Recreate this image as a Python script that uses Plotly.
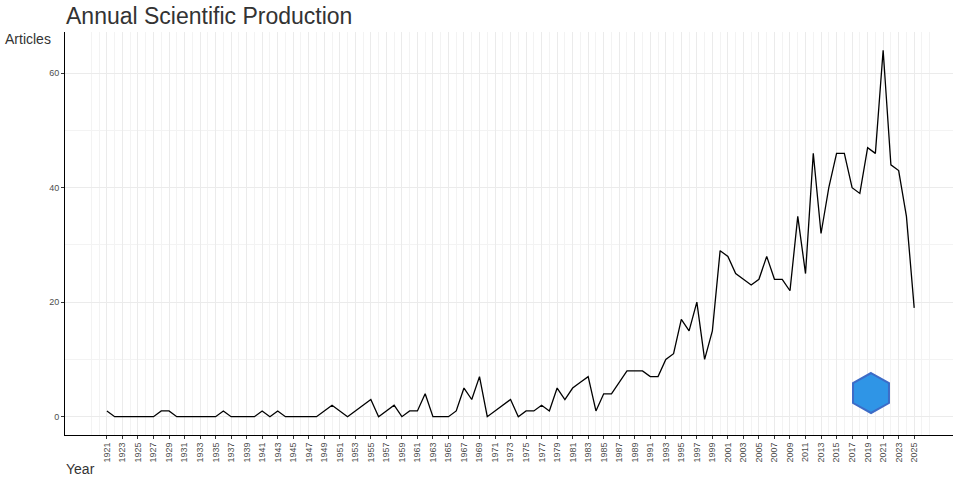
import plotly.graph_objects as go

years = list(range(1921, 2026))
articles = [
    1, 0, 0, 0, 0, 0, 0, 1, 1, 0,   # 1921-1930
    0, 0, 0, 0, 0, 1, 0, 0, 0, 0,   # 1931-1940
    1, 0, 1, 0, 0, 0, 0, 0, 1, 2,   # 1941-1950
    1, 0, 1, 2, 3, 0, 1, 2, 0, 1,   # 1951-1960
    1, 4, 0, 0, 0, 1, 5, 3, 7, 0,   # 1961-1970
    1, 2, 3, 0, 1, 1, 2, 1, 5, 3,   # 1971-1980
    5, 6, 7, 1, 4, 4, 6, 8, 8, 8,   # 1981-1990
    7, 7, 10, 11, 17, 15, 20, 10, 15, 29,  # 1991-2000
    28, 25, 24, 23, 24, 28, 24, 24, 22, 35,  # 2001-2010
    25, 46, 32, 40, 46, 46, 40, 39, 47, 46,  # 2011-2020
    64, 44, 43, 35, 19,             # 2021-2025
]
tick_years = list(range(1921, 2026, 2))
grid_years = list(range(1919, 2028))
y_ticks = [0, 20, 40, 60]
y_minor = [10, 30, 50]

fig = go.Figure()
fig.add_trace(go.Scatter(x=years, y=articles, mode="lines",
                         line=dict(color="black", width=1.3), showlegend=False,
                         hoverinfo="x+y"))

W, H = 960, 480
ml, mr, mt, mb = 65, 7, 32, 45

fig.update_layout(
    width=W, height=H,
    margin=dict(l=ml, r=mr, t=mt, b=mb, autoexpand=False),
    paper_bgcolor="white", plot_bgcolor="white",
    font=dict(family="Liberation Sans, Arial, sans-serif", color="#4d4d4d"),
    showlegend=False,
    xaxis=dict(
        range=[1915.6, 2030.0],
        tickvals=tick_years, ticktext=[str(t) for t in tick_years],
        tickangle=-90, tickfont=dict(size=9, color="#4d4d4d"),
        showgrid=True, gridcolor="#ebebeb", gridwidth=1,
        minor=dict(tickmode="array", tickvals=grid_years, showgrid=True,
                   gridcolor="#f3f3f3", gridwidth=1, ticks=""),
        showline=True, linecolor="black", linewidth=1,
        ticks="outside", ticklen=3, tickcolor="#333333",
        zeroline=False, automargin=False,
    ),
    yaxis=dict(
        range=[-3.2, 67.2],
        tickvals=y_ticks, tickfont=dict(size=9, color="#4d4d4d"),
        showgrid=True, gridcolor="#ebebeb", gridwidth=1,
        minor=dict(tickmode="array", tickvals=y_minor, showgrid=True,
                   gridcolor="#f3f3f3", gridwidth=1, ticks=""),
        showline=True, linecolor="black", linewidth=1,
        ticks="outside", ticklen=3, tickcolor="#333333",
        zeroline=False, automargin=False,
    ),
    annotations=[
        dict(text="Annual Scientific Production", xref="paper", yref="paper",
             x=0, y=1, xshift=-1, yshift=31, xanchor="left", yanchor="top",
             showarrow=False, font=dict(size=23, color="#333333")),
        dict(text="Articles", xref="paper", yref="paper",
             x=0, y=1, xshift=-62, yshift=3, xanchor="left", yanchor="top",
             showarrow=False, font=dict(size=14, color="#333333")),
        dict(text="Year", xref="paper", yref="paper",
             x=0, y=0, xshift=-1, yshift=-24, xanchor="left", yanchor="top",
             showarrow=False, font=dict(size=14, color="#333333")),
    ],
)

# small hexagon badge approximating the logo
pw, ph = W - ml - mr, H - mt - mb
cx, cy, rx, ry = 871, 393, 18, 20
pts = [(cx, cy - ry), (cx + rx, cy - ry / 2), (cx + rx, cy + ry / 2),
       (cx, cy + ry), (cx - rx, cy + ry / 2), (cx - rx, cy - ry / 2)]
def to_paper(p):
    return ((p[0] - ml) / pw, (H - mb - p[1]) / ph)
path = "M " + " L ".join(f"{to_paper(p)[0]:.4f},{to_paper(p)[1]:.4f}" for p in pts) + " Z"
fig.add_shape(type="path", path=path, xref="paper", yref="paper",
              fillcolor="#2f95e6", line=dict(color="#3d6cc7", width=2))

fig.write_html("out.html", config={"displayModeBar": False},
               post_script="document.body.style.margin='0';document.body.style.overflow='hidden';")
